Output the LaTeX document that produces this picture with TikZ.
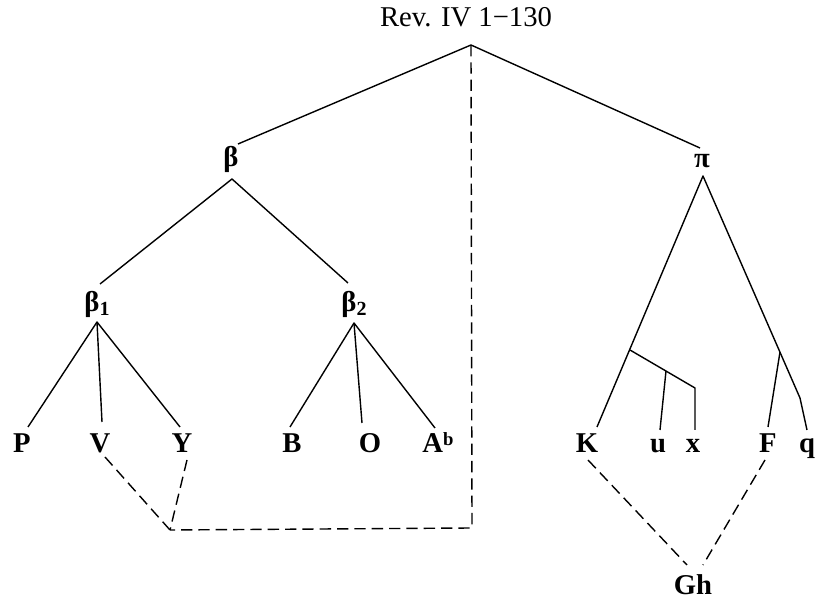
\documentclass[tikz,border=0pt]{standalone}
\usepackage{fontspec}
\setmainfont{Liberation Serif}
\begin{document}
\begin{tikzpicture}[x=0.75pt,y=-0.75pt,
  lab/.style={font=\fontsize{21.5}{26}\selectfont\bfseries, inner sep=0pt, anchor=base},
  title/.style={font=\fontsize{21.5}{26}\selectfont, inner sep=0pt, anchor=base},
  edge/.style={line width=1.05pt, line join=round},
  dline/.style={line width=1.05pt, dash pattern=on 8.5pt off 4.5pt}]
\useasboundingbox (0,0) rectangle (819,605);
% labels
\node[title] (rev) at (466,27) {Rev. IV 1−130};
\node[lab] (beta) at (231,167) {β};
\node[lab] (pi) at (702,168) {π};
\node[lab] (b1) at (97,312) {β\raisebox{-0.3ex}{\fontsize{15}{15}\selectfont 1}};
\node[lab] (b2) at (354,312) {β\raisebox{-0.3ex}{\fontsize{15}{15}\selectfont 2}};
\node[lab] (P) at (22,453) {P};
\node[lab] (V) at (100,453) {V};
\node[lab] (Y) at (182,453) {Y};
\node[lab] (B) at (292,453) {B};
\node[lab] (O) at (370,453) {O};
\node[lab] (A) at (438,453) {A\raisebox{0.55ex}{\fontsize{14}{14}\selectfont b}};
\node[lab] (K) at (587,453) {K};
\node[lab] (u) at (658,453) {u};
\node[lab] (x) at (693,453) {x};
\node[lab] (F) at (768,453) {F};
\node[lab] (q) at (807,453) {q};
\node[lab] (Gh) at (693,595) {Gh};
% connection points
\coordinate (apex) at (471,45);
\coordinate (betatop) at (238,144);
\coordinate (pitop) at (700,148);
\coordinate (betav) at (232,179);
\coordinate (b1top) at (100,284);
\coordinate (b2top) at (348,283);
\coordinate (b1v) at (97,322);
\coordinate (b2v) at (354,323);
\coordinate (Ptop) at (28,427);
\coordinate (Vtop) at (102,422);
\coordinate (Ytop) at (180,427);
\coordinate (Btop) at (290,427);
\coordinate (Otop) at (362,423);
\coordinate (Atop) at (435,428);
\coordinate (piv) at (703,176);
\coordinate (Ktop) at (597,427);
\coordinate (Kj) at (630,350);
\coordinate (uj) at (666,371);
\coordinate (xk) at (695,388);
\coordinate (utop) at (660,430);
\coordinate (xtop) at (695,430);
\coordinate (qk) at (800,398);
\coordinate (qtop) at (807,430);
\coordinate (Fj) at (780,352);
\coordinate (Ftop) at (768,427);
\coordinate (Vbot) at (105,457);
\coordinate (Ybot) at (187,460);
\coordinate (J) at (170,530);
\coordinate (corner) at (472,528);
\coordinate (Kbot) at (588,460);
\coordinate (Fbot) at (765,460);
\coordinate (Ghl) at (687,565);
\coordinate (Ghr) at (703,565);
% solid tree
\draw[edge] (betatop) -- (apex) -- (pitop);
\draw[edge] (b1top) -- (betav) -- (b2top);
\draw[edge] (Ptop) -- (b1v) -- (Ytop);
\draw[edge] (b1v) -- (Vtop);
\draw[edge] (Btop) -- (b2v) -- (Atop);
\draw[edge] (b2v) -- (Otop);
\draw[edge] (Ktop) -- (piv) -- (qk) -- (qtop);
\draw[edge] (Kj) -- (xk) -- (xtop);
\draw[edge] (uj) -- (utop);
\draw[edge] (Fj) -- (Ftop);
% dashed
\draw[dline] (apex) -- (corner) -- (J);
\draw[dline] (Vbot) -- (J);
\draw[dline] (Ybot) -- (J);
\draw[dline] (Kbot) -- (Ghl);
\draw[dline] (Fbot) -- (Ghr);
\end{tikzpicture}
\end{document}
